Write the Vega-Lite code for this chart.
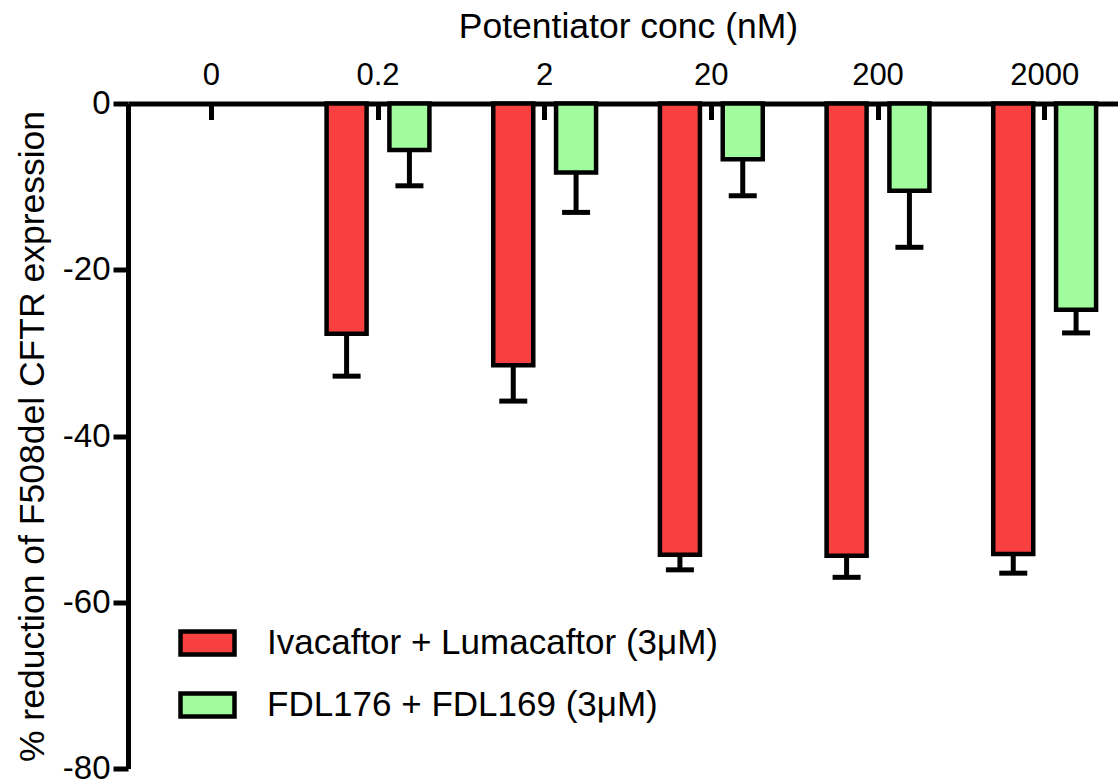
{
  "$schema": "https://vega.github.io/schema/vega-lite/v6.json",
  "width": 990,
  "height": 665,
  "autosize": {"type": "none"},
  "padding": {"left": 128, "top": 103.5, "right": 0, "bottom": 11.5},
  "background": "white",
  "config": {
    "view": {"stroke": null},
    "font": "Liberation Sans",
    "axis": {"labelFont": "Liberation Sans", "titleFont": "Liberation Sans", "labelColor": "black", "titleColor": "black", "titleFontWeight": "normal", "domainColor": "black", "tickColor": "black", "grid": false}
  },
  "data": {
    "values": [
      {"conc": "0.2", "series": "Ivacaftor + Lumacaftor (3μM)", "value": -27.7, "lower": -32.8},
      {"conc": "0.2", "series": "FDL176 + FDL169 (3μM)", "value": -5.6, "lower": -9.9},
      {"conc": "2", "series": "Ivacaftor + Lumacaftor (3μM)", "value": -31.5, "lower": -35.8},
      {"conc": "2", "series": "FDL176 + FDL169 (3μM)", "value": -8.3, "lower": -13.1},
      {"conc": "20", "series": "Ivacaftor + Lumacaftor (3μM)", "value": -54.3, "lower": -56.1},
      {"conc": "20", "series": "FDL176 + FDL169 (3μM)", "value": -6.7, "lower": -11.1},
      {"conc": "200", "series": "Ivacaftor + Lumacaftor (3μM)", "value": -54.4, "lower": -57.0},
      {"conc": "200", "series": "FDL176 + FDL169 (3μM)", "value": -10.5, "lower": -17.3},
      {"conc": "2000", "series": "Ivacaftor + Lumacaftor (3μM)", "value": -54.2, "lower": -56.5},
      {"conc": "2000", "series": "FDL176 + FDL169 (3μM)", "value": -24.8, "lower": -27.6}
    ]
  },
  "encoding": {
    "x": {
      "field": "conc",
      "type": "nominal",
      "scale": {"domain": ["0", "0.2", "2", "20", "200", "2000"], "range": [0, 1000], "paddingInner": 0, "paddingOuter": 0},
      "axis": {
        "orient": "top",
        "title": "Potentiator conc (nM)",
        "titleFontSize": 35.5,
        "titlePadding": 15,
        "labelFontSize": 31,
        "labelAngle": 0,
        "labelPadding": 28,
        "domainWidth": 5,
        "tickWidth": 5,
        "tickSize": -16
      }
    },
    "xOffset": {
      "field": "series",
      "type": "nominal",
      "scale": {"domain": ["Ivacaftor + Lumacaftor (3μM)", "FDL176 + FDL169 (3μM)"], "paddingInner": 0.363, "paddingOuter": 0.508}
    }
  },
  "layer": [
    {
      "mark": {"type": "bar", "stroke": "black", "strokeWidth": 4.5, "fillOpacity": 1},
      "encoding": {
        "y": {
          "field": "value",
          "type": "quantitative",
          "scale": {"domain": [-80, 0], "nice": false},
          "axis": {
            "title": "% reduction of F508del CFTR expression",
            "titleFontSize": 35.5,
            "titlePadding": 12,
            "values": [0, -20, -40, -60, -80],
            "labelExpr": "datum.value < 0 ? '-' + abs(datum.value) : '0'",
            "labelFontSize": 33,
            "labelPadding": 3,
            "domainWidth": 5,
            "tickWidth": 5,
            "tickSize": 15
          }
        },
        "color": {
          "field": "series",
          "type": "nominal",
          "scale": {"domain": ["Ivacaftor + Lumacaftor (3μM)", "FDL176 + FDL169 (3μM)"], "range": ["#F84040", "#A0FC9C"]},
          "legend": {
            "title": null,
            "orient": "none",
            "legendX": 50,
            "legendY": 510,
            "padding": 0,
            "symbolType": "M-1,-0.426H1V0.426H-1Z",
            "symbolSize": 2916,
            "symbolStrokeColor": "black",
            "symbolStrokeWidth": 4.5,
            "symbolFillOpacity": 1,
            "symbolOpacity": 1,
            "labelFont": "Liberation Sans",
            "labelFontSize": 35,
            "labelColor": "black",
            "labelOffset": 30,
            "labelLimit": 1000,
            "rowPadding": 11
          }
        }
      }
    },
    {
      "mark": {"type": "rule", "color": "black", "strokeWidth": 5},
      "encoding": {
        "y": {"field": "value", "type": "quantitative"},
        "y2": {"field": "lower"}
      }
    },
    {
      "mark": {"type": "tick", "color": "black", "thickness": 5, "size": 28, "orient": "horizontal", "opacity": 1},
      "encoding": {
        "y": {"field": "lower", "type": "quantitative"}
      }
    }
  ]
}
